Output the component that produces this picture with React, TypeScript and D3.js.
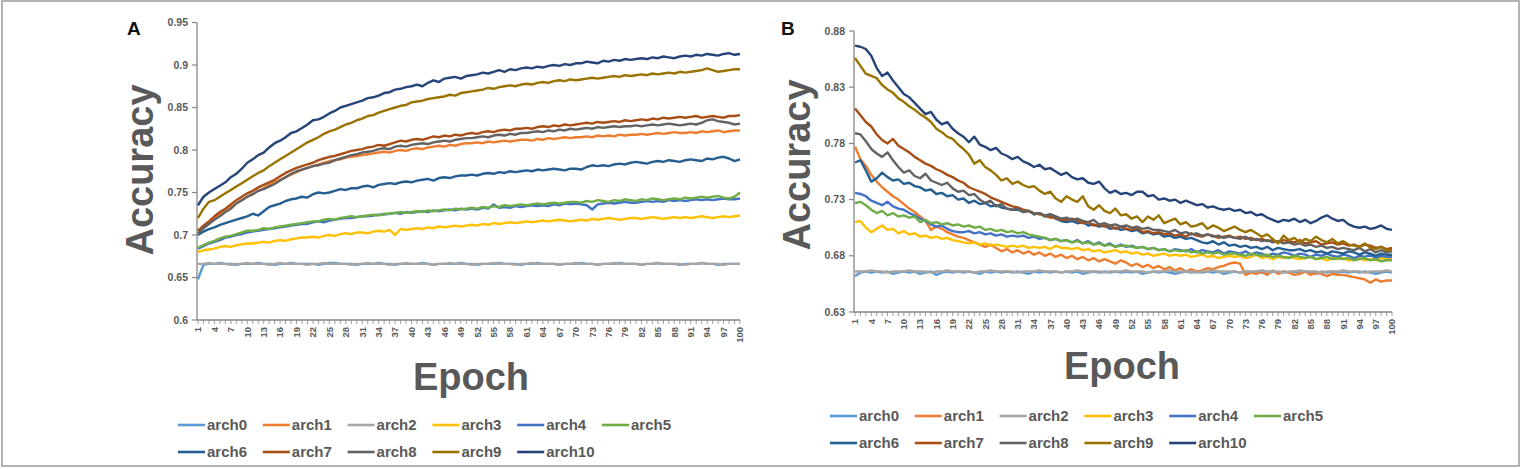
import React from "react";
import * as d3 from "d3";

// epochs on the category axis
const epochs = d3.range(1, 101);

const seriesNames = ["arch0", "arch1", "arch2", "arch3", "arch4", "arch5", "arch6", "arch7", "arch8", "arch9", "arch10"];
const seriesColors = ["#5B9BD5", "#ED7D31", "#A5A5A5", "#FFC000", "#4472C4", "#70AD47", "#255E91", "#A94D17", "#636363", "#997300", "#264478"];

const ticksA = [0.6, 0.65, 0.7, 0.75, 0.8, 0.85, 0.9, 0.95];
const ticksB = [0.63, 0.68, 0.73, 0.78, 0.83, 0.88];

// ---- panel A: accuracy per epoch ----
const arch0A = [
  0.648, 0.665, 0.666, 0.666, 0.667, 0.666, 0.666, 0.665, 0.666, 0.666,
  0.666, 0.667, 0.666, 0.666, 0.665, 0.666, 0.666, 0.667, 0.666, 0.666,
  0.666, 0.666, 0.665, 0.666, 0.667, 0.667, 0.666, 0.666, 0.666, 0.665,
  0.666, 0.666, 0.666, 0.667, 0.666, 0.666, 0.665, 0.666, 0.666, 0.666,
  0.666, 0.667, 0.666, 0.665, 0.666, 0.666, 0.666, 0.666, 0.667, 0.666,
  0.666, 0.665, 0.666, 0.666, 0.666, 0.667, 0.666, 0.666, 0.666, 0.665,
  0.666, 0.666, 0.667, 0.666, 0.666, 0.666, 0.665, 0.666, 0.666, 0.666,
  0.667, 0.666, 0.666, 0.665, 0.666, 0.666, 0.666, 0.667, 0.666, 0.666,
  0.666, 0.665, 0.666, 0.666, 0.667, 0.666, 0.666, 0.666, 0.665, 0.666,
  0.666, 0.666, 0.667, 0.666, 0.666, 0.665, 0.666, 0.666, 0.666, 0.666,
];
const arch1A = [
  0.703, 0.709, 0.714, 0.719, 0.724, 0.728, 0.733, 0.737, 0.741, 0.745,
  0.748, 0.752, 0.755, 0.759, 0.762, 0.765, 0.768, 0.771, 0.774, 0.777,
  0.779, 0.781, 0.783, 0.785, 0.787, 0.788, 0.789, 0.791, 0.792, 0.793,
  0.794, 0.795, 0.796, 0.797, 0.798, 0.797, 0.799, 0.8, 0.799, 0.801,
  0.802, 0.801, 0.803, 0.804, 0.805, 0.804, 0.806, 0.805, 0.807, 0.808,
  0.808, 0.809, 0.808, 0.81, 0.809, 0.81, 0.811, 0.81, 0.811, 0.812,
  0.812, 0.811, 0.813, 0.812, 0.814, 0.813, 0.814, 0.815, 0.814, 0.815,
  0.815, 0.816, 0.815, 0.817, 0.816, 0.817, 0.816, 0.818, 0.817, 0.818,
  0.818, 0.819, 0.818, 0.819, 0.82, 0.819, 0.82, 0.821, 0.82, 0.82,
  0.821, 0.82, 0.822, 0.821, 0.822, 0.823, 0.821, 0.822, 0.823, 0.823,
];
const arch2A = [
  0.666, 0.666, 0.667, 0.666, 0.666, 0.666, 0.665, 0.666, 0.666, 0.667,
  0.666, 0.666, 0.666, 0.665, 0.666, 0.667, 0.666, 0.666, 0.666, 0.666,
  0.665, 0.666, 0.666, 0.667, 0.666, 0.666, 0.666, 0.666, 0.665, 0.666,
  0.666, 0.667, 0.666, 0.666, 0.666, 0.665, 0.666, 0.666, 0.667, 0.666,
  0.666, 0.666, 0.666, 0.665, 0.666, 0.666, 0.667, 0.666, 0.666, 0.666,
  0.665, 0.666, 0.666, 0.666, 0.667, 0.666, 0.666, 0.666, 0.665, 0.666,
  0.666, 0.667, 0.666, 0.666, 0.666, 0.666, 0.665, 0.666, 0.666, 0.667,
  0.666, 0.666, 0.666, 0.665, 0.666, 0.666, 0.667, 0.666, 0.666, 0.666,
  0.666, 0.665, 0.666, 0.666, 0.667, 0.666, 0.666, 0.666, 0.666, 0.665,
  0.666, 0.666, 0.667, 0.666, 0.666, 0.666, 0.665, 0.666, 0.666, 0.666,
];
const arch3A = [
  0.68, 0.682, 0.683, 0.684, 0.686, 0.687, 0.686, 0.688, 0.689, 0.69,
  0.69, 0.691, 0.692, 0.691, 0.693, 0.694, 0.693, 0.695, 0.696, 0.697,
  0.697, 0.698, 0.697, 0.699, 0.7, 0.699, 0.701, 0.702, 0.701, 0.703,
  0.703, 0.702, 0.704, 0.705, 0.704, 0.706, 0.7, 0.707, 0.706, 0.707,
  0.708, 0.707, 0.709, 0.708, 0.71, 0.709, 0.71, 0.711, 0.71, 0.711,
  0.712, 0.711, 0.713, 0.712, 0.714, 0.713, 0.714, 0.715, 0.714, 0.715,
  0.716, 0.715, 0.716, 0.717, 0.716, 0.717, 0.718, 0.717, 0.716, 0.717,
  0.718, 0.717, 0.719, 0.718, 0.719, 0.72, 0.719, 0.718, 0.719, 0.72,
  0.72, 0.719, 0.72, 0.721, 0.72, 0.719, 0.72, 0.721, 0.72, 0.721,
  0.72, 0.721, 0.722, 0.721, 0.72, 0.721, 0.722, 0.721, 0.722, 0.723,
];
const arch4A = [
  0.684, 0.687, 0.69, 0.692, 0.694, 0.697, 0.698, 0.7, 0.701, 0.703,
  0.704, 0.705, 0.706, 0.707, 0.708, 0.709, 0.71, 0.711, 0.712, 0.713,
  0.713, 0.715, 0.716, 0.715, 0.717, 0.718, 0.719, 0.72, 0.72, 0.721,
  0.722, 0.722, 0.723, 0.724, 0.724, 0.725, 0.726, 0.725, 0.727, 0.726,
  0.727, 0.728, 0.727, 0.729, 0.728, 0.729, 0.73, 0.729, 0.731, 0.73,
  0.731, 0.73, 0.732, 0.731, 0.736, 0.732, 0.733, 0.732, 0.734, 0.733,
  0.734, 0.735, 0.734, 0.735, 0.734, 0.736, 0.735, 0.737, 0.736, 0.737,
  0.736, 0.735, 0.73, 0.736, 0.737, 0.738, 0.737, 0.738, 0.739, 0.738,
  0.738, 0.739, 0.74, 0.739, 0.74, 0.739, 0.741, 0.74, 0.741, 0.74,
  0.741, 0.742, 0.741, 0.742, 0.741, 0.742, 0.743, 0.742, 0.742, 0.743,
];
const arch5A = [
  0.685, 0.688, 0.691, 0.693, 0.696, 0.698, 0.699, 0.701, 0.703, 0.705,
  0.705, 0.706, 0.708, 0.707, 0.709, 0.71, 0.711, 0.712, 0.713, 0.714,
  0.715, 0.716, 0.716, 0.718, 0.719, 0.718, 0.72, 0.721, 0.722, 0.721,
  0.722, 0.723, 0.724, 0.723, 0.725, 0.725, 0.726, 0.727, 0.726, 0.727,
  0.728, 0.727, 0.729, 0.728, 0.729, 0.73, 0.729, 0.731, 0.73, 0.731,
  0.732, 0.731, 0.733, 0.732, 0.734, 0.733, 0.735, 0.734, 0.735, 0.736,
  0.735, 0.736, 0.737, 0.736, 0.737, 0.738, 0.737, 0.738, 0.739, 0.739,
  0.738, 0.74, 0.739, 0.741, 0.74, 0.739, 0.741, 0.74, 0.742, 0.741,
  0.74, 0.742, 0.741, 0.743, 0.742, 0.741, 0.742, 0.743, 0.742, 0.744,
  0.743, 0.744, 0.745, 0.744, 0.745, 0.746, 0.744, 0.743, 0.745, 0.75,
];
const arch6A = [
  0.7, 0.704, 0.707, 0.709, 0.712, 0.714, 0.716, 0.718, 0.72, 0.722,
  0.725, 0.723, 0.728, 0.733, 0.735, 0.737, 0.74, 0.742, 0.743, 0.745,
  0.744, 0.748, 0.75, 0.749, 0.75, 0.752, 0.754, 0.753, 0.755, 0.755,
  0.757, 0.758, 0.756, 0.759, 0.76, 0.761, 0.76, 0.762, 0.763, 0.762,
  0.764, 0.765, 0.766, 0.764, 0.767, 0.768, 0.767, 0.769, 0.77, 0.77,
  0.771, 0.77, 0.772, 0.773, 0.772, 0.774, 0.773, 0.775, 0.774, 0.775,
  0.776, 0.775, 0.777, 0.776, 0.777, 0.778, 0.777, 0.776, 0.778, 0.778,
  0.777, 0.78, 0.782, 0.781, 0.782, 0.781, 0.783, 0.784, 0.783, 0.785,
  0.786, 0.785, 0.784, 0.786, 0.787, 0.786, 0.788, 0.787, 0.786, 0.788,
  0.789, 0.788, 0.787, 0.79, 0.789, 0.791, 0.792, 0.79, 0.787, 0.789,
];
const arch7A = [
  0.705, 0.711, 0.716, 0.722, 0.727, 0.731, 0.736, 0.741, 0.745, 0.749,
  0.752, 0.756, 0.759, 0.762, 0.765, 0.769, 0.773, 0.776, 0.779, 0.781,
  0.783, 0.785, 0.788, 0.79, 0.792, 0.793, 0.795, 0.797, 0.799, 0.8,
  0.801, 0.803, 0.804, 0.806, 0.805, 0.807, 0.809, 0.811, 0.81, 0.812,
  0.813, 0.812, 0.814, 0.816, 0.815, 0.817, 0.816, 0.818, 0.817, 0.819,
  0.82, 0.819, 0.821, 0.822, 0.821, 0.823, 0.824, 0.823, 0.825, 0.825,
  0.826, 0.825, 0.827, 0.828, 0.827, 0.829, 0.828, 0.83, 0.829, 0.83,
  0.831, 0.832, 0.831, 0.833, 0.832, 0.833, 0.834, 0.833, 0.835, 0.834,
  0.835, 0.836, 0.835, 0.837, 0.836, 0.838, 0.837, 0.838, 0.839, 0.838,
  0.839, 0.84, 0.838, 0.839, 0.84, 0.839, 0.838, 0.84, 0.84, 0.841,
];
const arch8A = [
  0.702, 0.708, 0.713, 0.718, 0.722, 0.727, 0.731, 0.737, 0.741, 0.745,
  0.748, 0.752, 0.754, 0.757, 0.76, 0.764, 0.768, 0.772, 0.775, 0.777,
  0.779, 0.781, 0.782, 0.784, 0.785, 0.788, 0.79, 0.792, 0.794, 0.795,
  0.797, 0.798, 0.799, 0.801, 0.802, 0.801, 0.804, 0.805, 0.804, 0.806,
  0.807, 0.808, 0.807, 0.809, 0.81, 0.811, 0.81, 0.812, 0.813, 0.814,
  0.814, 0.815, 0.816, 0.815, 0.817, 0.818, 0.817, 0.819, 0.818, 0.82,
  0.82, 0.821, 0.822, 0.821, 0.823, 0.822, 0.824, 0.823, 0.825, 0.824,
  0.825, 0.826, 0.825, 0.827, 0.826, 0.827, 0.828, 0.827, 0.828, 0.828,
  0.829, 0.828, 0.829, 0.83, 0.829, 0.83, 0.831, 0.83, 0.829, 0.83,
  0.831, 0.83, 0.832, 0.835, 0.836, 0.834, 0.833, 0.832, 0.83, 0.831,
];
const arch9A = [
  0.72, 0.731, 0.739, 0.741, 0.745, 0.749, 0.753, 0.757, 0.761, 0.765,
  0.769, 0.773, 0.776, 0.781, 0.785, 0.789, 0.793, 0.797, 0.801, 0.805,
  0.809, 0.812, 0.815, 0.819, 0.822, 0.824, 0.827, 0.83, 0.832, 0.835,
  0.837, 0.84, 0.841, 0.844, 0.846, 0.848, 0.85, 0.852, 0.853, 0.856,
  0.857, 0.858, 0.86, 0.861, 0.862, 0.863, 0.865, 0.864, 0.867, 0.868,
  0.869, 0.87, 0.871, 0.873, 0.872, 0.874, 0.875, 0.876, 0.875, 0.877,
  0.878, 0.877, 0.879, 0.88, 0.879, 0.881, 0.882, 0.881, 0.883, 0.882,
  0.883, 0.884, 0.885, 0.884, 0.885, 0.886, 0.887, 0.886, 0.888, 0.887,
  0.888, 0.889, 0.888, 0.89, 0.889, 0.89, 0.891, 0.89, 0.892, 0.891,
  0.892, 0.893, 0.894, 0.896, 0.894, 0.892, 0.893, 0.894, 0.895, 0.895,
];
const arch10A = [
  0.735, 0.745, 0.75, 0.754, 0.758, 0.762, 0.768, 0.772, 0.778, 0.785,
  0.789, 0.794, 0.797, 0.803, 0.808, 0.811, 0.815, 0.82, 0.822, 0.826,
  0.83, 0.835, 0.836, 0.839, 0.843, 0.846, 0.85, 0.852, 0.854, 0.856,
  0.858, 0.861, 0.862, 0.864, 0.867, 0.868, 0.871, 0.872, 0.874, 0.875,
  0.877, 0.875, 0.879, 0.882, 0.88, 0.884, 0.885, 0.886, 0.884, 0.887,
  0.888, 0.889, 0.891, 0.89, 0.892, 0.894, 0.892, 0.895, 0.894, 0.896,
  0.897, 0.896, 0.898, 0.897, 0.899, 0.9, 0.899, 0.901, 0.9, 0.902,
  0.902, 0.904, 0.903, 0.902, 0.905, 0.904, 0.906, 0.905, 0.907, 0.906,
  0.907, 0.908, 0.907, 0.909, 0.908, 0.91, 0.909, 0.908, 0.91, 0.911,
  0.91, 0.912, 0.911, 0.913, 0.912, 0.911, 0.913, 0.914, 0.912, 0.913,
];

// ---- panel B: accuracy per epoch ----
const arch0B = [
  0.662, 0.665, 0.666, 0.665, 0.666, 0.665, 0.666, 0.664, 0.665, 0.666,
  0.665, 0.666, 0.664, 0.665, 0.666, 0.663, 0.665, 0.666, 0.665, 0.666,
  0.665, 0.666, 0.665, 0.664, 0.666, 0.665, 0.666, 0.665, 0.666, 0.665,
  0.666, 0.665, 0.664, 0.666, 0.665, 0.666, 0.665, 0.666, 0.665, 0.666,
  0.665, 0.666, 0.664, 0.665, 0.666, 0.665, 0.666, 0.665, 0.666, 0.665,
  0.666, 0.665, 0.666, 0.664, 0.665, 0.666, 0.665, 0.666, 0.665, 0.664,
  0.665, 0.666, 0.665, 0.666, 0.665, 0.666, 0.665, 0.666, 0.664, 0.665,
  0.666, 0.665, 0.666, 0.665, 0.666, 0.665, 0.664, 0.666, 0.665, 0.666,
  0.665, 0.666, 0.665, 0.666, 0.665, 0.664, 0.666, 0.665, 0.666, 0.665,
  0.666, 0.665, 0.666, 0.665, 0.666, 0.665, 0.664, 0.665, 0.666, 0.665,
];
const arch1B = [
  0.777, 0.766, 0.76, 0.752, 0.746, 0.741, 0.737, 0.733, 0.73, 0.726,
  0.722, 0.719, 0.715, 0.711, 0.703, 0.706, 0.704, 0.701, 0.699, 0.697,
  0.696, 0.694, 0.692, 0.69, 0.688, 0.69, 0.687, 0.684, 0.686, 0.683,
  0.685, 0.682, 0.684, 0.681, 0.683, 0.68, 0.682, 0.679, 0.681, 0.678,
  0.68, 0.677, 0.679, 0.676, 0.678, 0.675, 0.677, 0.675, 0.673, 0.676,
  0.674, 0.671, 0.673, 0.67, 0.672, 0.669, 0.671, 0.668, 0.67, 0.667,
  0.669, 0.666, 0.668, 0.666, 0.667, 0.669, 0.668, 0.67, 0.671, 0.673,
  0.674, 0.673, 0.663, 0.665, 0.664, 0.666, 0.663, 0.667, 0.664, 0.666,
  0.665, 0.663, 0.664, 0.666, 0.663, 0.665, 0.664, 0.662, 0.664, 0.663,
  0.663, 0.662, 0.661, 0.66, 0.659, 0.656, 0.659, 0.657, 0.658, 0.658,
];
const arch2B = [
  0.666, 0.666, 0.666, 0.667, 0.666, 0.666, 0.665, 0.666, 0.666, 0.666,
  0.667, 0.666, 0.666, 0.666, 0.665, 0.666, 0.666, 0.667, 0.666, 0.666,
  0.666, 0.666, 0.665, 0.666, 0.666, 0.667, 0.666, 0.666, 0.666, 0.666,
  0.665, 0.666, 0.666, 0.666, 0.667, 0.666, 0.666, 0.666, 0.665, 0.666,
  0.666, 0.667, 0.666, 0.666, 0.666, 0.666, 0.665, 0.666, 0.666, 0.666,
  0.667, 0.666, 0.666, 0.666, 0.665, 0.666, 0.666, 0.666, 0.667, 0.666,
  0.666, 0.666, 0.666, 0.665, 0.666, 0.666, 0.667, 0.666, 0.666, 0.666,
  0.666, 0.665, 0.666, 0.666, 0.666, 0.667, 0.666, 0.666, 0.666, 0.665,
  0.666, 0.666, 0.667, 0.666, 0.666, 0.666, 0.665, 0.666, 0.666, 0.666,
  0.667, 0.666, 0.666, 0.666, 0.665, 0.666, 0.666, 0.666, 0.667, 0.666,
];
const arch3B = [
  0.71, 0.711, 0.705, 0.701, 0.704, 0.707, 0.703, 0.704, 0.7, 0.702,
  0.699, 0.7, 0.697, 0.698, 0.696, 0.697, 0.695, 0.696, 0.694, 0.693,
  0.692, 0.691, 0.692, 0.69, 0.691, 0.689, 0.69, 0.689, 0.688, 0.689,
  0.688, 0.689, 0.687, 0.688, 0.687, 0.688, 0.686, 0.689, 0.687, 0.687,
  0.686, 0.687, 0.685, 0.686, 0.684, 0.685, 0.683, 0.684, 0.685, 0.683,
  0.684, 0.682, 0.683, 0.681, 0.682, 0.68, 0.681, 0.682, 0.68, 0.681,
  0.68, 0.681, 0.679, 0.68, 0.681, 0.679, 0.68, 0.678, 0.679, 0.68,
  0.679, 0.68, 0.678, 0.679, 0.681, 0.678, 0.679, 0.677, 0.679, 0.678,
  0.679, 0.678, 0.677, 0.678, 0.679, 0.677, 0.678, 0.676, 0.678, 0.677,
  0.678, 0.676, 0.677, 0.678, 0.676, 0.677, 0.676, 0.678, 0.677, 0.677,
];
const arch4B = [
  0.736, 0.735, 0.733, 0.729, 0.727, 0.725, 0.728, 0.724, 0.722, 0.721,
  0.718, 0.716, 0.713, 0.711, 0.708, 0.706, 0.707, 0.704, 0.702, 0.701,
  0.701, 0.702, 0.7, 0.701, 0.699, 0.7, 0.698, 0.699, 0.697, 0.698,
  0.697, 0.698, 0.696, 0.697, 0.695, 0.696, 0.694, 0.695, 0.693, 0.694,
  0.692, 0.694, 0.691, 0.693, 0.69, 0.692, 0.689, 0.691, 0.688, 0.69,
  0.688, 0.689, 0.687, 0.688, 0.686, 0.687, 0.685, 0.686, 0.684, 0.686,
  0.685, 0.684, 0.686, 0.683, 0.685, 0.684, 0.683, 0.685, 0.682, 0.684,
  0.683, 0.682, 0.684, 0.681, 0.683, 0.682, 0.68, 0.682, 0.681, 0.683,
  0.682, 0.68, 0.682, 0.681, 0.679, 0.681, 0.68, 0.682, 0.68, 0.679,
  0.681, 0.68, 0.678, 0.68, 0.679, 0.681, 0.678, 0.68, 0.679, 0.679,
];
const arch5B = [
  0.727, 0.728, 0.725, 0.721, 0.718, 0.72, 0.716, 0.718, 0.715, 0.716,
  0.714, 0.715, 0.71, 0.712, 0.709, 0.71, 0.708, 0.709, 0.707, 0.708,
  0.706, 0.707, 0.705, 0.706, 0.703, 0.704, 0.702, 0.703, 0.701, 0.702,
  0.7, 0.701, 0.699, 0.698, 0.697, 0.696, 0.694, 0.695, 0.693, 0.694,
  0.692, 0.693, 0.691, 0.692, 0.69, 0.691, 0.689, 0.69, 0.688, 0.689,
  0.689, 0.688, 0.687, 0.688, 0.686, 0.687, 0.685, 0.686, 0.684, 0.685,
  0.684, 0.685, 0.683, 0.684, 0.682, 0.683, 0.682, 0.683, 0.681, 0.682,
  0.682, 0.681, 0.68, 0.682, 0.681, 0.68, 0.681, 0.679, 0.68, 0.679,
  0.678, 0.68, 0.679, 0.678, 0.679, 0.677, 0.678, 0.679, 0.677, 0.678,
  0.677, 0.678, 0.676, 0.677, 0.678, 0.676, 0.677, 0.675, 0.676, 0.676,
];
const arch6B = [
  0.763, 0.765, 0.756, 0.746, 0.749, 0.754, 0.75, 0.747, 0.748, 0.744,
  0.745, 0.742, 0.741, 0.738, 0.739, 0.735, 0.736, 0.733, 0.734, 0.73,
  0.731, 0.727, 0.729, 0.726, 0.727, 0.724, 0.725, 0.723, 0.722, 0.721,
  0.721, 0.719, 0.72, 0.717, 0.718, 0.715, 0.716, 0.713, 0.711, 0.71,
  0.711, 0.709, 0.71, 0.707, 0.708, 0.706, 0.707, 0.704, 0.705, 0.703,
  0.704, 0.702, 0.703, 0.7, 0.701, 0.699, 0.7, 0.697, 0.698, 0.696,
  0.697, 0.695, 0.696, 0.694, 0.692, 0.691, 0.693, 0.69, 0.692, 0.689,
  0.69, 0.688, 0.689, 0.687, 0.688, 0.686, 0.688, 0.685, 0.687, 0.686,
  0.685, 0.685, 0.686, 0.684, 0.685, 0.683, 0.684, 0.682, 0.684, 0.683,
  0.682, 0.684, 0.683, 0.681, 0.683, 0.682, 0.68, 0.682, 0.681, 0.681,
];
const arch7B = [
  0.811, 0.805, 0.799, 0.795, 0.788, 0.783, 0.78, 0.784, 0.778, 0.775,
  0.772, 0.768, 0.765, 0.762, 0.76, 0.757, 0.755, 0.752, 0.75, 0.747,
  0.745, 0.741, 0.739, 0.737, 0.735, 0.732, 0.73, 0.728, 0.726, 0.724,
  0.723, 0.721, 0.72, 0.718, 0.717, 0.716, 0.714, 0.714, 0.712, 0.712,
  0.713, 0.711, 0.709, 0.71, 0.707, 0.708, 0.706, 0.707, 0.704, 0.706,
  0.704, 0.703, 0.705, 0.701, 0.702, 0.7, 0.701, 0.699, 0.7, 0.698,
  0.699, 0.697, 0.7, 0.698, 0.697, 0.699, 0.698, 0.696, 0.697, 0.698,
  0.696, 0.697, 0.695, 0.696, 0.694, 0.695, 0.693, 0.694, 0.692, 0.694,
  0.693, 0.692, 0.694, 0.691, 0.692, 0.693, 0.69, 0.691, 0.692, 0.69,
  0.691, 0.689, 0.69, 0.688, 0.69, 0.689, 0.687, 0.688, 0.686, 0.687,
];
const arch8B = [
  0.789, 0.788, 0.782, 0.775, 0.771, 0.768, 0.772, 0.765, 0.759, 0.754,
  0.756, 0.751, 0.749, 0.753, 0.747, 0.745, 0.743, 0.745, 0.74, 0.737,
  0.738, 0.734, 0.735, 0.73, 0.727, 0.729, 0.724, 0.726, 0.722, 0.721,
  0.722, 0.719, 0.72, 0.717, 0.718, 0.716, 0.717, 0.715, 0.713, 0.714,
  0.712, 0.713, 0.711, 0.71, 0.712, 0.708, 0.709, 0.707, 0.708, 0.706,
  0.707, 0.705, 0.706, 0.704, 0.705, 0.703, 0.703, 0.702, 0.701, 0.703,
  0.7, 0.701, 0.699, 0.7, 0.698, 0.699, 0.697, 0.698, 0.696, 0.697,
  0.696, 0.695, 0.697, 0.694, 0.695, 0.693, 0.694, 0.692, 0.693, 0.691,
  0.692, 0.69, 0.691, 0.689, 0.69, 0.688, 0.689, 0.687, 0.688, 0.686,
  0.687, 0.686, 0.685, 0.687, 0.684, 0.686, 0.683, 0.685, 0.683, 0.684,
];
const arch9B = [
  0.856, 0.849, 0.842, 0.84, 0.838, 0.832, 0.828, 0.825, 0.82, 0.817,
  0.813, 0.81, 0.806, 0.803, 0.799, 0.793, 0.79, 0.786, 0.784, 0.779,
  0.775, 0.77, 0.762, 0.765, 0.759, 0.756, 0.752, 0.747, 0.749, 0.744,
  0.746, 0.743, 0.741, 0.742, 0.738, 0.735, 0.737, 0.731, 0.728, 0.733,
  0.73, 0.728, 0.733, 0.724, 0.721, 0.725, 0.72, 0.718, 0.722, 0.716,
  0.717, 0.713, 0.715, 0.71, 0.715, 0.712, 0.716, 0.709, 0.711, 0.713,
  0.708, 0.71, 0.706, 0.707, 0.709, 0.704, 0.707, 0.705, 0.702, 0.704,
  0.706, 0.703, 0.701, 0.703, 0.7, 0.697, 0.699, 0.695, 0.691, 0.698,
  0.694, 0.696, 0.692, 0.695, 0.693, 0.697, 0.694, 0.692, 0.695, 0.691,
  0.693, 0.69, 0.689, 0.688, 0.691, 0.687, 0.686, 0.688, 0.685, 0.685,
];
const arch10B = [
  0.867, 0.866, 0.864, 0.858, 0.847, 0.84, 0.843, 0.836, 0.83, 0.824,
  0.821, 0.816, 0.811, 0.806, 0.808, 0.801, 0.797, 0.799, 0.793, 0.789,
  0.786, 0.781, 0.786, 0.779, 0.777, 0.774, 0.776, 0.771, 0.769, 0.766,
  0.768, 0.764, 0.762, 0.759, 0.761, 0.757, 0.758, 0.755, 0.752, 0.754,
  0.75, 0.748, 0.749, 0.745, 0.744, 0.746, 0.74, 0.736, 0.738, 0.735,
  0.736, 0.734, 0.737, 0.737, 0.733, 0.734, 0.73, 0.731, 0.729, 0.73,
  0.727, 0.729, 0.727, 0.725, 0.726, 0.723, 0.724, 0.722, 0.721, 0.722,
  0.72, 0.721, 0.718, 0.719, 0.716, 0.717, 0.714, 0.712, 0.71, 0.712,
  0.711, 0.713, 0.71, 0.712, 0.709, 0.711, 0.714, 0.716, 0.713, 0.711,
  0.712, 0.708, 0.706, 0.705, 0.706, 0.704, 0.705, 0.707, 0.704, 0.703,
];

const seriesA = [arch0A, arch1A, arch2A, arch3A, arch4A, arch5A, arch6A, arch7A, arch8A, arch9A, arch10A];
const seriesB = [arch0B, arch1B, arch2B, arch3B, arch4B, arch5B, arch6B, arch7B, arch8B, arch9B, arch10B];

const FONT = "'Liberation Sans', Arial, Helvetica, sans-serif";
const TEXT = "#595959";
const AXIS = "#868686";

type PanelProps = {
  letter: string;
  series: number[][];
  ticks: number[];
  domain: [number, number];
  x0: number;
  x1: number;
  yTop: number;
  yBottom: number;
  letterX: number;
  accX: number;
  accY: number;
  epochX: number;
  epochY: number;
  legendX: number;
  legendY: number;
};

function Panel(p: PanelProps) {
  const x = d3.scalePoint<number>().domain(epochs).range([p.x0 + 1, p.x1]);
  const y = d3.scaleLinear().domain(p.domain).range([p.yBottom, p.yTop]);
  const line = d3
    .line<number>()
    .x((_, i) => x(epochs[i]) as number)
    .y((d) => y(d));

  const labelled = epochs.filter((e) => (e - 1) % 3 === 0);

  return (
    <g fontFamily={FONT}>
      <text x={p.letterX} y={35} fontSize={19} fontWeight="bold" fill="#111">
        {p.letter}
      </text>

      {/* y axis */}
      <line x1={p.x0} x2={p.x0} y1={p.yTop} y2={p.yBottom} stroke={AXIS} strokeWidth={1.3} />
      {p.ticks.map((t) => (
        <g key={t}>
          <line x1={p.x0 - 5} x2={p.x0} y1={y(t)} y2={y(t)} stroke={AXIS} strokeWidth={1.2} />
          <text
            x={p.x0 - 9}
            y={y(t)}
            dy="0.35em"
            textAnchor="end"
            fontSize={10.5}
            fontWeight="bold"
            fill={TEXT}
          >
            {String(t)}
          </text>
        </g>
      ))}

      {/* x axis with a tick per epoch */}
      <line x1={p.x0} x2={p.x1} y1={p.yBottom} y2={p.yBottom} stroke={AXIS} strokeWidth={1.3} />
      {epochs.map((e) => (
        <line
          key={e}
          x1={x(e)}
          x2={x(e)}
          y1={p.yBottom}
          y2={p.yBottom + 4}
          stroke={AXIS}
          strokeWidth={0.8}
        />
      ))}
      {labelled.map((e) => (
        <text
          key={e}
          transform={`translate(${x(e)},${p.yBottom + 7}) rotate(-90)`}
          textAnchor="end"
          dy="0.35em"
          fontSize={9.5}
          fontWeight="bold"
          fill={TEXT}
        >
          {e}
        </text>
      ))}

      <text
        transform={`translate(${p.accX},${p.accY}) rotate(-90)`}
        textAnchor="middle"
        fontSize={38}
        fontWeight="bold"
        fill={TEXT}
      >
        Accuracy
      </text>
      <text x={p.epochX} y={p.epochY} textAnchor="middle" fontSize={38} fontWeight="bold" fill={TEXT}>
        Epoch
      </text>

      {/* series lines, arch0 first so later ones sit on top */}
      {p.series.map((vals, i) => (
        <path
          key={seriesNames[i]}
          d={line(vals) ?? ""}
          fill="none"
          stroke={seriesColors[i]}
          strokeWidth={2.4}
          strokeLinejoin="round"
        />
      ))}

      {/* legend: two rows of six and five */}
      {seriesNames.map((name, i) => {
        const col = i % 6;
        const row = Math.floor(i / 6);
        const lx = p.legendX + col * 84.8;
        const ly = p.legendY + row * 27;
        return (
          <g key={name}>
            <line x1={lx} x2={lx + 27} y1={ly} y2={ly} stroke={seriesColors[i]} strokeWidth={2.6} />
            <text x={lx + 29} y={ly} dy="0.35em" fontSize={15} fontWeight="bold" fill={TEXT}>
              {name}
            </text>
          </g>
        );
      })}
    </g>
  );
}

export default function App() {
  return (
    <svg
      width={1523}
      height={469}
      style={{ position: "absolute", left: 0, top: 0, background: "#fff" }}
    >
      <rect x={2} y={1} width={1517} height={465} fill="#fff" stroke="#9a9a9a" strokeWidth={1.5} />
      <Panel
        letter="A"
        series={seriesA}
        ticks={ticksA}
        domain={[0.6, 0.95]}
        x0={197}
        x1={740}
        yTop={22.5}
        yBottom={320}
        letterX={127}
        accX={153}
        accY={170}
        epochX={471}
        epochY={390}
        legendX={178}
        legendY={425}
      />
      <Panel
        letter="B"
        series={seriesB}
        ticks={ticksB}
        domain={[0.63, 0.88]}
        x0={854}
        x1={1392}
        yTop={31}
        yBottom={312}
        letterX={781}
        accX={810}
        accY={165}
        epochX={1122}
        epochY={379}
        legendX={830}
        legendY={416}
      />
    </svg>
  );
}
